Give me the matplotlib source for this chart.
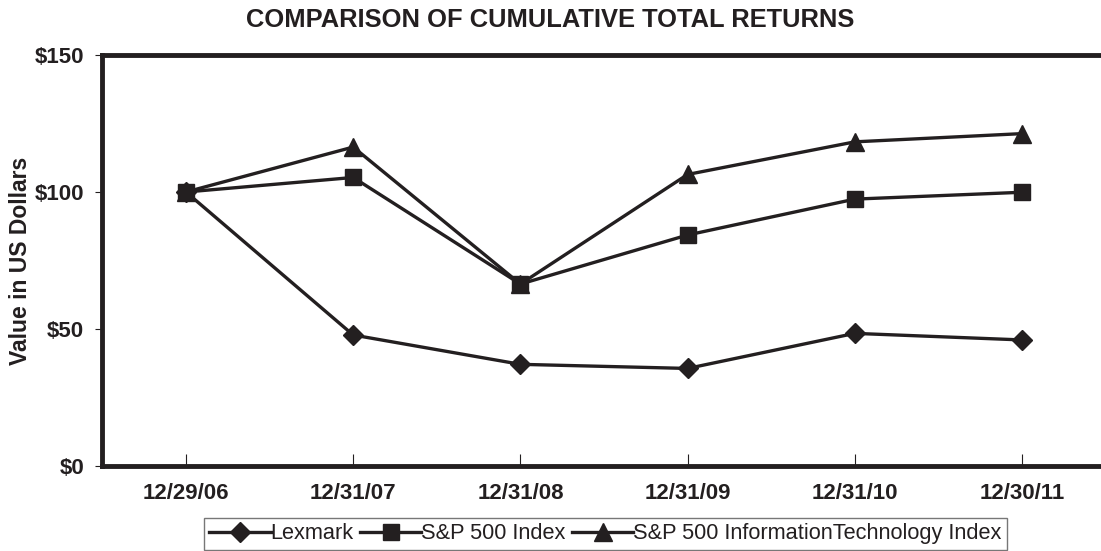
import matplotlib
matplotlib.use("Agg")
import matplotlib.pyplot as plt

plt.rcParams['font.family'] = ['Liberation Sans', 'DejaVu Sans']

dates = ['12/29/06', '12/31/07', '12/31/08', '12/31/09', '12/31/10', '12/30/11']
lexmark = [100, 47.8, 37.1, 35.6, 48.4, 46.0]
sp500 = [100, 105.3, 66.4, 84.3, 97.4, 99.9]
sp500_it = [100, 116.4, 66.4, 106.4, 118.3, 121.3]
y_ticks = [0, 50, 100, 150]
y_labels = ['$0', '$50', '$100', '$150']

ink = '#231f20'

fig = plt.figure(figsize=(11.01, 5.51), dpi=100)
# right edge of the plot frame sits just outside the picture
ax = fig.add_axes([0.093, 0.1543, 0.9112, 0.7459])

x = list(range(len(dates)))
ax.plot(x, lexmark, color=ink, lw=2.4, marker='D', ms=10.5, label='Lexmark')
ax.plot(x, sp500, color=ink, lw=2.4, marker='s', ms=11.5, label='S&P 500 Index')
ax.plot(x, sp500_it, color=ink, lw=2.4, marker='^', ms=12.5,
        label='S&P 500 InformationTechnology Index')

ax.set_xlim(-0.5, 5.5)
ax.set_ylim(0, 150)
ax.set_xticks(x)
ax.set_xticklabels(dates, fontsize=16, fontweight='bold', color=ink)
ax.set_yticks(y_ticks)
ax.set_yticklabels(y_labels, fontsize=16, fontweight='bold', color=ink)
ax.tick_params(axis='x', direction='in', length=9, width=0.8, color=ink, pad=12)
ax.tick_params(axis='y', direction='out', length=5, width=0.8, color=ink, pad=8)

for side in ['top', 'left', 'bottom', 'right']:
    ax.spines[side].set_linewidth(3.5)
    ax.spines[side].set_color(ink)

ax.set_ylabel('Value in US Dollars', fontsize=16.5, fontweight='bold', color=ink,
              labelpad=2)
fig.text(0.5, 0.963, 'COMPARISON OF CUMULATIVE TOTAL RETURNS', ha='center',
         va='center', fontsize=18.4, fontweight='bold', color=ink)

leg = fig.legend(loc='upper left', bbox_to_anchor=(204 / 1101, 1 - 518 / 551),
                 ncol=3, fontsize=15.7, frameon=True, fancybox=False,
                 edgecolor='#555555', handlelength=2.8, handletextpad=0.0,
                 columnspacing=0.3, borderpad=0.25, borderaxespad=0)
leg.get_frame().set_linewidth(1)
for t in leg.get_texts():
    t.set_color(ink)

fig.savefig('out.png', dpi=100)
